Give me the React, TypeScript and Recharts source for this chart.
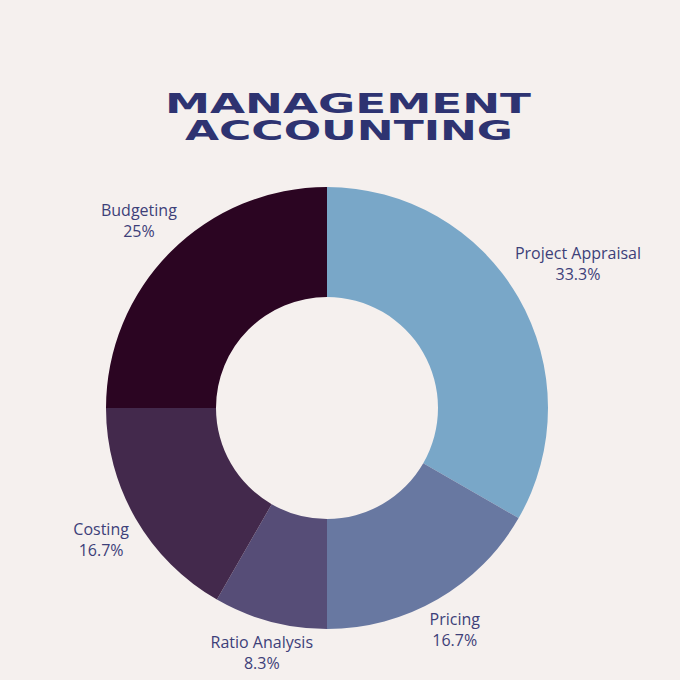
import React from "react";
import { PieChart, Pie, Cell } from "recharts";

const categories = ["Project Appraisal", "Pricing", "Ratio Analysis", "Costing", "Budgeting"];
const shares = [33.3, 16.7, 8.3, 16.7, 25];
const colors = ["#79a7c8", "#6878a1", "#564d77", "#43294c", "#2b0522"];

const titleLines = ["MANAGEMENT", "ACCOUNTING"];

const data = categories.map((name, i) => ({ name, value: shares[i] }));

// how far each label sits from the centre
const labelRadius: Record<string, number> = {
  "Project Appraisal": 290,
  Pricing: 255,
  "Ratio Analysis": 253,
  Costing: 261,
  Budgeting: 266,
};

const RAD = Math.PI / 180;

const renderLabel = (props: any) => {
  const { cx, cy, midAngle, name, value } = props;
  const r = labelRadius[name] ?? 262;
  const x = cx + r * Math.cos(-midAngle * RAD);
  const y = cy + r * Math.sin(-midAngle * RAD);
  return (
    <text
      x={x}
      y={y}
      textAnchor="middle"
      fill="#3d4079"
      fontSize={16}
      fontFamily="'Open Sans', sans-serif"
    >
      <tspan x={x} dy={-4}>{name}</tspan>
      <tspan x={x} dy={21}>{`${value}%`}</tspan>
    </text>
  );
};

export default function App() {
  return (
    <div
      style={{
        position: "fixed",
        left: 0,
        top: 0,
        width: 680,
        height: 680,
        background: "#f5f0ee",
      }}
    >
      <svg width={680} height={180} style={{ position: "absolute", left: 0, top: 0 }}>
        {titleLines.map((t, i) => (
          <text
            key={t}
            x={i === 0 ? 165 : 185}
            y={113 + i * 27}
            textLength={i === 0 ? 366 : 328}
            lengthAdjust="spacingAndGlyphs"
            fill="#2e3371"
            fontSize={26}
            fontWeight={700}
            fontFamily="'DejaVu Sans', sans-serif"
          >
            {t}
          </text>
        ))}
      </svg>
      <div style={{ position: "absolute", left: 0, top: 0 }}>
        <PieChart width={680} height={680} margin={{ top: 0, right: 0, bottom: 0, left: 0 }}>
          <Pie
            data={data}
            dataKey="value"
            nameKey="name"
            cx={327}
            cy={408}
            innerRadius={111}
            outerRadius={221}
            startAngle={90}
            endAngle={-270}
            stroke="none"
            label={renderLabel}
            labelLine={false}
            isAnimationActive={false}
          >
            {data.map((d, i) => (
              <Cell key={d.name} fill={colors[i]} />
            ))}
          </Pie>
        </PieChart>
      </div>
    </div>
  );
}
